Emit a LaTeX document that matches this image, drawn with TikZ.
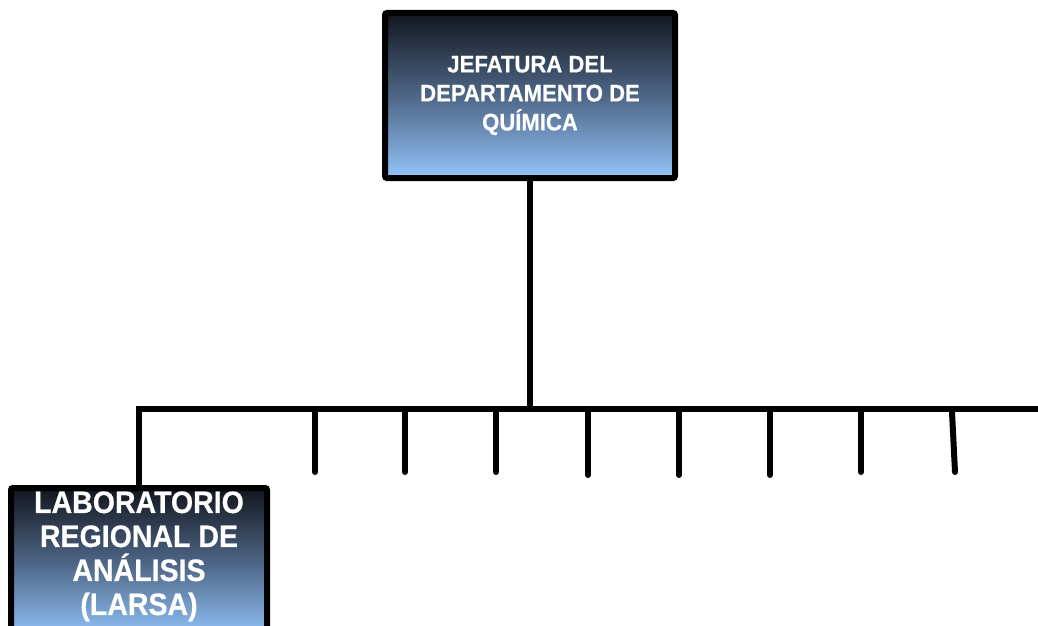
\documentclass[tikz,border=0pt]{standalone}
\usepackage{fontspec}
\newfontfamily\orgfont{Liberation Sans Bold}[FakeStretch=0.92, FakeBold=0.6]
\usepackage{xcolor}
\usepackage{tikz}
\usetikzlibrary{positioning, calc}
\definecolor{orgnavy}{HTML}{12161E}
\definecolor{orgsteel}{HTML}{4E6686}
\definecolor{orgsky}{HTML}{92C4FA}

\begin{document}
\begin{tikzpicture}[
    x=1pt, y=-1pt,
    unit/.style={rectangle, draw=black, line width=6pt, rounded corners=2pt, top color=orgnavy, bottom color=orgsky, middle color=orgsteel, text=white, align=center, font=\orgfont},
    link/.style={line width=6pt, color=black},
    tick/.style={line width=6pt, color=black, line cap=round}
]
\clip (0,0) rectangle (1038,626);

\node[unit, minimum width=290pt, minimum height=165pt, font=\orgfont\fontsize{24}{29}\selectfont] (jefe) at (530,95.5)
    {JEFATURA DEL\\DEPARTAMENTO DE\\QUÍMICA};
\node[unit, anchor=north, minimum width=256pt, minimum height=150pt, text depth=20pt, font=\orgfont\fontsize{31}{34}\selectfont] (larsa) at (139,485)
    {LABORATORIO\\REGIONAL DE\\ANÁLISIS\\(LARSA)};

% barra horizontal
\coordinate (busR) at (1045,409);
\draw[link] (jefe.south) -- (jefe.south |- busR);
\draw[link] (larsa.north) |- (busR);

% derivaciones sin unidad
\foreach \x/\dx/\y in {315/0/472, 405/0/472, 496/0/472, 588/0/475, 679/0/475, 770/0/475, 861/0/472, 952/3/472} {
    \coordinate (t\x) at (\x,412);
    \draw[tick] (t\x) -- ++(\dx,\y-412);
}
\end{tikzpicture}
\end{document}
